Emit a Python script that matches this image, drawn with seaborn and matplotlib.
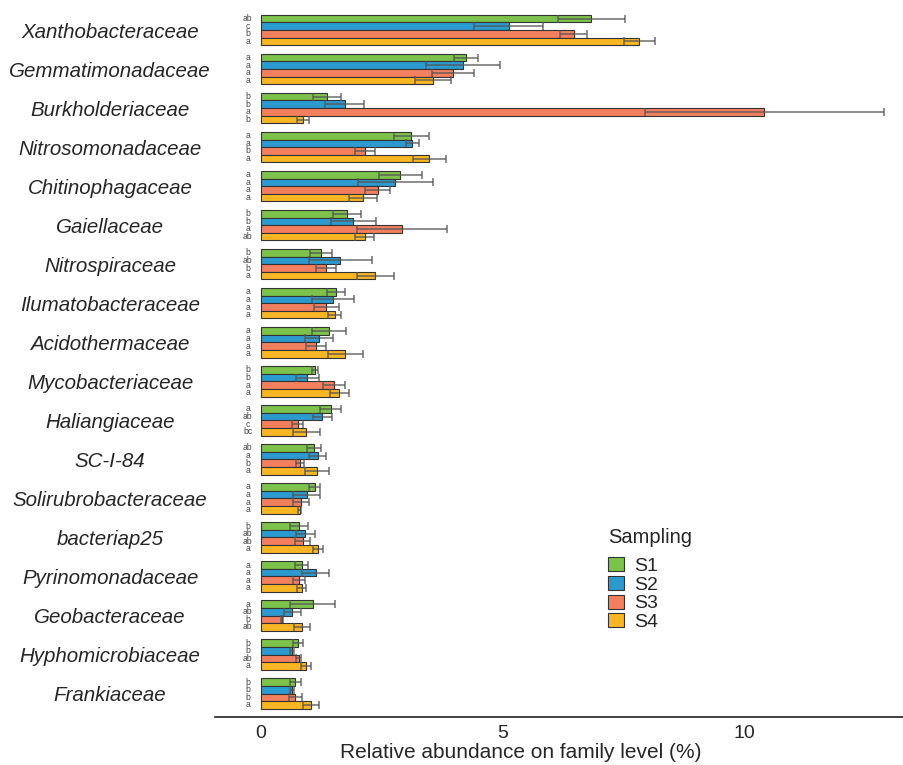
import matplotlib
matplotlib.use("Agg")
import matplotlib.pyplot as plt
import pandas as pd
import seaborn as sns

# Families, top to bottom
families = [
    "Xanthobacteraceae", "Gemmatimonadaceae", "Burkholderiaceae",
    "Nitrosomonadaceae", "Chitinophagaceae", "Gaiellaceae",
    "Nitrospiraceae", "Ilumatobacteraceae", "Acidothermaceae",
    "Mycobacteriaceae", "Haliangiaceae", "SC-I-84",
    "Solirubrobacteraceae", "bacteriap25", "Pyrinomonadaceae",
    "Geobacteraceae", "Hyphomicrobiaceae", "Frankiaceae",
]
samplings = ["S1", "S2", "S3", "S4"]

# Mean relative abundance (%) per sampling
s1_mean = [6.83, 4.24, 1.36, 3.11, 2.88, 1.78, 1.24, 1.55, 1.40, 1.12, 1.44, 1.10, 1.11, 0.79, 0.84, 1.07, 0.76, 0.71]
s2_mean = [5.12, 4.18, 1.73, 3.13, 2.78, 1.91, 1.64, 1.49, 1.20, 0.96, 1.27, 1.17, 0.95, 0.92, 1.13, 0.65, 0.65, 0.64]
s3_mean = [6.46, 3.97, 10.40, 2.15, 2.41, 2.92, 1.34, 1.35, 1.14, 1.51, 0.76, 0.81, 0.83, 0.86, 0.78, 0.44, 0.78, 0.71]
s4_mean = [7.82, 3.55, 0.87, 3.48, 2.10, 2.14, 2.36, 1.52, 1.74, 1.62, 0.94, 1.16, 0.80, 1.18, 0.84, 0.85, 0.93, 1.03]

# Standard deviations
s1_sd = [0.70, 0.25, 0.29, 0.37, 0.45, 0.29, 0.23, 0.19, 0.35, 0.06, 0.22, 0.14, 0.12, 0.18, 0.14, 0.46, 0.10, 0.12]
s2_sd = [0.71, 0.77, 0.40, 0.14, 0.78, 0.46, 0.65, 0.43, 0.28, 0.23, 0.20, 0.17, 0.28, 0.20, 0.28, 0.17, 0.04, 0.05]
s3_sd = [0.27, 0.43, 2.47, 0.21, 0.26, 0.93, 0.21, 0.26, 0.21, 0.22, 0.11, 0.08, 0.17, 0.15, 0.12, 0.02, 0.05, 0.13]
s4_sd = [0.32, 0.37, 0.12, 0.34, 0.29, 0.19, 0.38, 0.14, 0.36, 0.19, 0.27, 0.25, 0.03, 0.10, 0.10, 0.16, 0.10, 0.16]

# Significance letters
s1_sig = ["ab", "a", "b", "a", "a", "b", "b", "a", "a", "b", "a", "ab", "a", "b", "a", "a", "b", "b"]
s2_sig = ["c", "a", "b", "a", "a", "b", "ab", "a", "a", "b", "ab", "a", "a", "ab", "a", "ab", "b", "b"]
s3_sig = ["b", "a", "a", "b", "a", "a", "b", "a", "a", "a", "c", "b", "a", "ab", "a", "b", "ab", "b"]
s4_sig = ["a", "a", "b", "a", "a", "ab", "a", "a", "a", "a", "bc", "a", "a", "a", "a", "ab", "a", "a"]

colors = ["#7DC24B", "#2C9ACF", "#F2805E", "#F8B524"]

means = [s1_mean, s2_mean, s3_mean, s4_mean]
sds = [s1_sd, s2_sd, s3_sd, s4_sd]
sigs = [s1_sig, s2_sig, s3_sig, s4_sig]

rows = []
for s, m, sd, sg in zip(samplings, means, sds, sigs):
    for fam, mv, sv, lv in zip(families, m, sd, sg):
        rows.append({"family": fam, "sampling": s, "abundance": mv, "sd": sv, "sig": lv})
df = pd.DataFrame(rows)

sns.set_style("white")
plt.rcParams["font.family"] = ["Liberation Sans", "DejaVu Sans"]

fig = plt.figure(figsize=(9.04, 7.65), dpi=100)
ax = fig.add_axes([215 / 904, 48 / 765, 689 / 904, 710.4 / 765])

sns.barplot(
    data=df, x="abundance", y="family", hue="sampling",
    order=families, hue_order=samplings, palette=colors,
    orient="h", errorbar=None, width=0.78, saturation=1,
    edgecolor="#333333", linewidth=0.8, ax=ax,
)

# Error bars and significance letters, one container per sampling
for container, s in zip(ax.containers, samplings):
    sub = df[df["sampling"] == s].set_index("family").loc[families]
    ys = [b.get_y() + b.get_height() / 2 for b in container]
    ax.errorbar(
        sub["abundance"].values, ys, xerr=sub["sd"].values, fmt="none",
        ecolor="#555555", elinewidth=1.1, capsize=2.8, capthick=1.1,
        alpha=0.85, zorder=4,
    )
    for y, lab in zip(ys, sub["sig"].values):
        ax.text(-0.27, y, lab, ha="center", va="center", fontsize=6.2,
                color="#444444")

ax.set_xlim(-0.95, 13.29)
ax.set_ylim(17.6, -0.6)
ax.set_xticks([0, 5, 10])
ax.set_xlabel("Relative abundance on family level (%)", fontsize=15, va="top")
ax.xaxis.set_label_coords(0.444, -0.037)
ax.set_ylabel("")

for side in ["left", "top", "right"]:
    ax.spines[side].set_visible(False)
ax.spines["bottom"].set_color("#333333")
ax.spines["bottom"].set_linewidth(1.3)

ax.tick_params(axis="x", length=3, width=0.8, color="#555555", labelsize=14, pad=3)
ax.tick_params(axis="y", length=3.5, width=0.8, color="#777777", labelsize=14.8, pad=72)
for t in ax.get_yticklabels():
    t.set_ha("center")
    t.set_style("italic")

handles, labels = ax.get_legend_handles_labels()
leg = ax.legend(
    handles, labels, title="Sampling", loc="upper left",
    bbox_to_anchor=(0.545, 0.29), frameon=False, fontsize=14,
    title_fontsize=14.5, handlelength=0.8, handleheight=0.75,
    labelspacing=0.04, handletextpad=0.55, alignment="left",
)
leg._legend_box.sep = 7

fig.savefig("out.png", dpi=100)
